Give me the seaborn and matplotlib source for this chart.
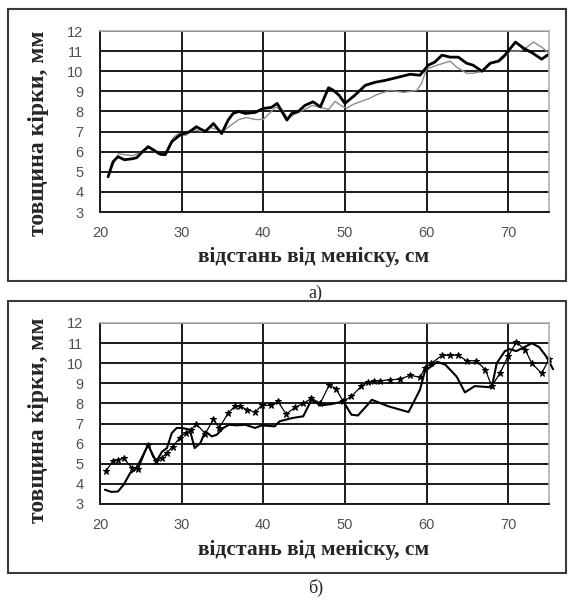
import matplotlib
matplotlib.use('Agg')
import matplotlib.pyplot as plt
import seaborn as sns
from matplotlib.patches import Rectangle

# panel a) - thick black curve
a_x_thick = [21.0, 21.6, 22.2, 23.0, 24.0, 24.5, 25.2, 25.9, 26.5, 27.4, 28.0, 28.8, 29.8, 31.0, 31.8,
             32.9, 33.9, 34.9, 35.7, 36.3, 37.0, 37.8, 39.0, 40.0, 41.0, 41.7, 42.9, 43.5, 44.3, 45.1,
             46.1, 47.0, 48.0, 48.6, 49.3, 50.0, 51.2, 52.5, 53.7, 55.0, 56.5, 58.0, 59.2, 59.6, 60.2,
             61.0, 61.9, 62.9, 63.9, 64.9, 65.7, 66.8, 67.8, 68.8, 69.6, 70.2, 70.9, 71.9, 73.0, 74.1, 75.0]
a_y_thick = [4.75, 5.5, 5.75, 5.6, 5.65, 5.7, 6.0, 6.25, 6.1, 5.87, 5.85, 6.5, 6.83, 7.0, 7.24,
             7.0, 7.4, 6.9, 7.57, 7.9, 8.0, 7.9, 7.95, 8.15, 8.2, 8.4, 7.57, 7.9, 8.0, 8.3,
             8.48, 8.23, 9.18, 9.05, 8.8, 8.4, 8.8, 9.3, 9.45, 9.55, 9.7, 9.85, 9.8, 10.0, 10.3,
             10.45, 10.8, 10.7, 10.7, 10.4, 10.3, 10.0, 10.4, 10.5, 10.8, 11.1, 11.45, 11.14, 10.9, 10.6, 10.85]

# panel a) - thin grey curve
a_x_thin = [21.0, 21.5, 22.3, 23.0, 24.0, 25.0, 26.0, 27.0, 28.0, 29.0, 29.6, 30.5, 31.5, 32.5, 33.5,
            34.5, 35.0, 36.0, 37.0, 38.0, 39.0, 40.0, 41.0, 41.5, 42.3, 43.0, 44.0, 45.1, 46.0, 47.0,
            48.0, 48.8, 49.5, 50.2, 51.0, 52.0, 53.0, 54.0, 55.5, 57.2, 58.8, 59.4, 60.0, 61.3, 62.9,
            63.7, 64.9, 65.7, 66.9, 68.0, 69.0, 70.3, 71.5, 72.3, 73.1, 74.1, 75.0]
a_y_thin = [4.8, 5.3, 5.9, 5.85, 5.8, 5.95, 6.2, 5.9, 5.9, 6.7, 6.9, 6.8, 7.1, 7.0, 7.2,
            7.1, 7.0, 7.3, 7.6, 7.7, 7.6, 7.6, 8.0, 8.2, 8.1, 7.65, 7.9, 8.1, 8.3, 8.2,
            8.1, 8.5, 8.3, 8.15, 8.35, 8.5, 8.65, 8.85, 9.05, 8.95, 9.05, 9.4, 10.1, 10.3, 10.5,
            10.2, 9.9, 9.9, 10.0, 10.4, 10.5, 11.0, 11.0, 11.2, 11.45, 11.2, 10.9]

# panel б) - solid curve
b_x_line = [20.6, 21.4, 22.2, 22.9, 23.7, 24.3, 24.9, 25.9, 26.5, 26.9, 27.6, 28.2, 28.8, 29.4, 30.0,
            31.0, 31.6, 32.3, 32.9, 33.7, 34.3, 35.1, 35.8, 36.7, 37.8, 39.0, 39.8, 41.4, 42.0, 43.5,
            44.9, 45.9, 47.0, 48.4, 49.8, 50.8, 51.6, 52.6, 53.3, 55.3, 57.8, 59.2, 59.8, 61.3, 62.3,
            63.7, 64.7, 65.9, 68.0, 68.6, 69.6, 70.2, 71.0, 72.9, 73.8, 74.7, 75.5]
b_y_line = [3.71, 3.6, 3.62, 3.96, 4.54, 4.7, 5.12, 5.95, 5.37, 5.12, 5.6, 5.78, 6.53, 6.78, 6.78,
            6.7, 5.78, 6.03, 6.61, 6.36, 6.44, 6.78, 6.94, 6.91, 6.94, 6.78, 6.91, 6.86, 7.11, 7.27,
            7.36, 8.18, 7.9, 7.97, 8.1, 7.44, 7.4, 7.85, 8.18, 7.86, 7.57, 8.68, 9.6, 10.07, 9.93,
            9.33, 8.55, 8.86, 8.8, 10.0, 10.6, 10.7, 10.6, 10.99, 10.8, 10.32, 9.7]

# panel б) - curve with star markers
b_x_star = [20.7, 21.6, 22.2, 22.9, 23.9, 24.7, 25.9, 26.9, 27.6, 28.2, 28.9, 29.8, 30.5, 31.2, 31.8,
            32.9, 33.9, 34.6, 35.7, 36.5, 37.2, 38.0, 39.0, 39.8, 41.0, 41.8, 42.8, 43.9, 44.9, 45.9,
            47.0, 48.1, 48.9, 49.8, 50.8, 52.0, 52.8, 53.6, 54.3, 55.5, 56.7, 58.0, 59.2, 59.8, 60.6,
            61.9, 62.9, 63.9, 64.9, 66.1, 67.2, 68.0, 69.0, 70.0, 71.0, 72.1, 72.9, 74.1, 75.0]
b_y_star = [4.62, 5.15, 5.2, 5.28, 4.8, 4.75, 5.95, 5.15, 5.3, 5.55, 5.85, 6.3, 6.55, 6.7, 6.98,
            6.5, 7.22, 6.78, 7.52, 7.85, 7.85, 7.69, 7.57, 7.9, 7.9, 8.1, 7.47, 7.8, 8.0, 8.25,
            8.02, 8.93, 8.73, 8.1, 8.35, 8.85, 9.05, 9.1, 9.12, 9.18, 9.2, 9.4, 9.3, 9.76, 10.0,
            10.39, 10.39, 10.4, 10.12, 10.12, 9.68, 8.85, 9.51, 10.34, 11.05, 10.66, 9.99, 9.5, 10.19]

x_ticks = [20, 30, 40, 50, 60, 70]
y_ticks = [3, 4, 5, 6, 7, 8, 9, 10, 11, 12]
x_label = 'відстань від меніску, см'
y_label = 'товщина кірки, мм'
captions = ['а)', 'б)']

sns.set_style('white')
plt.rcParams['font.family'] = ['Liberation Serif', 'DejaVu Serif']

fig = plt.figure(figsize=(5.69, 6.02), dpi=100)

def setup(ax):
    ax.set_xlim(20, 75)
    ax.set_ylim(3, 12)
    ax.set_xticks(x_ticks)
    ax.set_yticks(y_ticks)
    ax.grid(True, color='#1a1a1a', linewidth=1.4)
    ax.set_axisbelow(True)
    for s in ['left', 'bottom']:
        ax.spines[s].set_color('#1a1a1a')
        ax.spines[s].set_linewidth(1.4)
    for s in ['top', 'right']:
        ax.spines[s].set_color('#b0b0b0')
        ax.spines[s].set_linewidth(1.2)
    ax.tick_params(axis='both', direction='out', length=7, width=1.4, color='#1a1a1a',
                   labelcolor='#505050', labelsize=10.5)
    ax.tick_params(axis='y', pad=5)
    ax.tick_params(axis='x', pad=3)
    for lab in ax.get_xticklabels() + ax.get_yticklabels():
        lab.set_family('Liberation Sans')
    ax.set_xlabel('')
    ax.set_ylabel('')

# top panel
ax1 = fig.add_axes([0.1757, 0.6478, 0.7891, 0.3007])
sns.lineplot(x=a_x_thin, y=a_y_thin, ax=ax1, color='#8c8c8c', linewidth=1.0,
             estimator=None, sort=False)
sns.lineplot(x=a_x_thick, y=a_y_thick, ax=ax1, color='black', linewidth=2.0,
             estimator=None, sort=False)
setup(ax1)

# bottom panel
ax2 = fig.add_axes([0.1757, 0.1628, 0.7891, 0.3007])
sns.lineplot(x=b_x_line, y=b_y_line, ax=ax2, color='black', linewidth=1.5,
             estimator=None, sort=False, clip_on=False)
sns.lineplot(x=b_x_star, y=b_y_star, ax=ax2, color='black', linewidth=0.9,
             marker='*', markersize=5, markeredgecolor='black', markerfacecolor='black',
             estimator=None, sort=False, clip_on=False)
setup(ax2)

# axis titles, frames and captions
for yb, (xl_y, yl_y) in zip([0.5332, 0.0482], [(0.573, 0.778), (0.086, 0.302)]):
    fig.add_artist(Rectangle((0.0141, yb), 0.980, 0.452, transform=fig.transFigure,
                             fill=False, edgecolor='#3a3a3a', linewidth=1.5))
    fig.text(0.552, xl_y, x_label, ha='center', va='center', fontsize=15.5, fontweight='bold')
    fig.text(0.068, yl_y, y_label, ha='center', va='center', rotation=90, fontsize=17, fontweight='bold')
fig.text(0.555, 0.513, captions[0], ha='center', va='center', fontsize=13)
fig.text(0.555, 0.023, captions[1], ha='center', va='center', fontsize=13)

fig.savefig('out.png', dpi=100)
